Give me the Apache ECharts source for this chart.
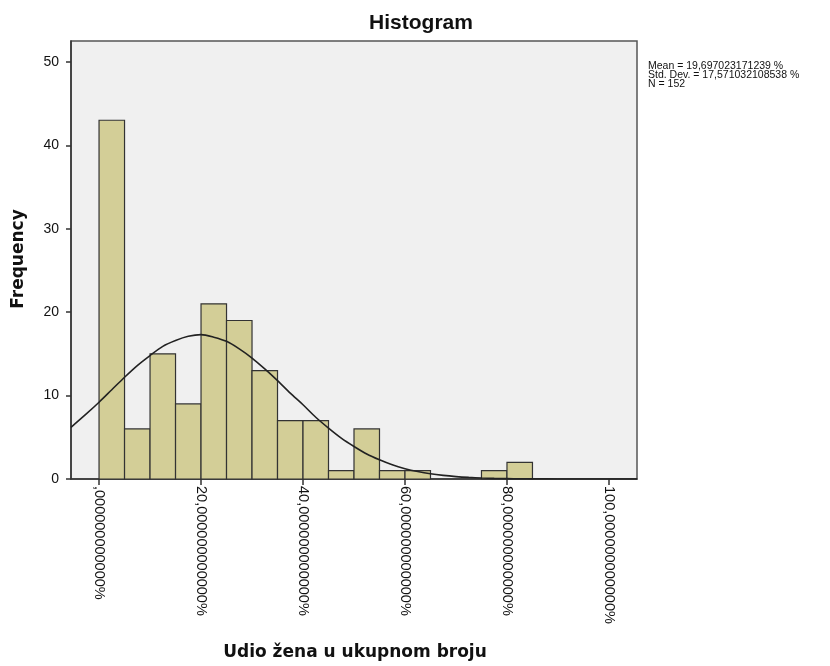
<!DOCTYPE html>
<html>
<head>
<meta charset="utf-8">
<script src="https://cdn.jsdelivr.net/npm/echarts@6/dist/echarts.min.js"></script>
<style>html,body{margin:0;padding:0;background:#fff}#c{width:830px;height:666px}</style>
</head>
<body>
<div id="c"></div>
<script>
// Histogram bins (percent) and frequencies
const binStarts = [0, 5, 10, 15, 20, 25, 30, 35, 40, 45, 50, 55, 60, 65, 70, 75, 80];
const binWidth = 5;
const frequencies = [43, 6, 15, 9, 21, 19, 13, 7, 7, 1, 6, 1, 1, 0, 0, 1, 2];
// Normal curve
const curveX = [-5.5, -2.5, 0, 2.5, 5, 7.5, 10, 12.5, 15, 17.5, 20, 22.5, 25, 27.5, 30, 32.5, 35, 37.5, 40, 42.5, 45, 47.5, 50, 52.5, 55, 57.5, 60, 62.5, 65, 67.5, 70, 72.5, 75, 77.5, 80, 82.5, 85, 90, 95, 100, 105.5];
const curveY = [6.2, 7.8, 9.2, 10.7, 12.2, 13.6, 14.8, 15.9, 16.6, 17.1, 17.3, 17.0, 16.5, 15.6, 14.5, 13.2, 11.8, 10.3, 8.9, 7.4, 6.1, 4.9, 3.9, 3.0, 2.3, 1.7, 1.24, 0.89, 0.62, 0.43, 0.29, 0.19, 0.12, 0.08, 0.05, 0.03, 0.02, 0.005, 0.001, 0, 0];
const xTicks = [0, 20, 40, 60, 80, 100];
const xTickLabels = [',000000000000%', '20,000000000000%', '40,000000000000%', '60,000000000000%', '80,000000000000%', '100,000000000000%'];
const yTicks = [0, 10, 20, 30, 40, 50];
const statsLines = ['Mean = 19,697023171239 %', 'Std. Dev. = 17,571032108538 %', 'N = 152'];
const chartTitle = 'Histogram';
const xTitle = 'Udio žena u ukupnom broju';
const yTitle = 'Frequency';

const barData = binStarts.map((s, i) => [s, s + binWidth, frequencies[i]]);
const curveData = curveX.map((x, i) => [x, curveY[i]]);

const chart = echarts.init(document.getElementById('c'));
chart.setOption({
  animation: false,
  backgroundColor: '#ffffff',
  grid: {
    left: 71, right: 193, top: 41, bottom: 187,
    show: true, backgroundColor: '#F0F0F0', borderColor: '#555', borderWidth: 1.5
  },
  xAxis: {
    type: 'value', min: -5.5, max: 105.5,
    splitLine: { show: false },
    axisLine: { show: true, onZero: false, lineStyle: { color: '#333', width: 1.5 } },
    axisTick: { show: true, customValues: xTicks, length: 6, lineStyle: { color: '#333', width: 1.5 } },
    axisLabel: {
      customValues: xTicks, rotate: -90, margin: 7,
      color: '#111', fontFamily: 'Arial, Liberation Sans', fontSize: 14.5,
      formatter: v => xTickLabels[xTicks.indexOf(Math.round(v))] || ''
    }
  },
  yAxis: {
    type: 'value', min: 0, max: 52.5,
    splitLine: { show: false },
    axisLine: { show: true, onZero: false, lineStyle: { color: '#333', width: 1.5 } },
    axisTick: { show: true, customValues: yTicks, length: 5, lineStyle: { color: '#333', width: 1.5 } },
    axisLabel: {
      customValues: yTicks, margin: 12,
      color: '#111', fontFamily: 'Arial, Liberation Sans', fontSize: 14
    }
  },
  series: [
    {
      type: 'custom',
      data: barData,
      renderItem: function (params, api) {
        const c = api.value(2);
        if (!c) return null;
        const p0 = api.coord([api.value(0), 0]);
        const p1 = api.coord([api.value(1), c]);
        return {
          type: 'rect',
          shape: { x: p0[0], y: p1[1], width: p1[0] - p0[0], height: p0[1] - p1[1] },
          style: { fill: '#D3CE97', stroke: '#333', lineWidth: 1.2 }
        };
      },
      encode: { x: [0, 1], y: 2 },
      z: 2
    },
    {
      type: 'line',
      data: curveData,
      showSymbol: false,
      smooth: 0.3,
      lineStyle: { color: '#222', width: 1.6 },
      z: 3
    }
  ],
  graphic: [
    {
      type: 'text', x: 421, y: 23,
      style: { text: chartTitle, textAlign: 'center', textVerticalAlign: 'middle',
        font: 'bold 21px Arial, "Liberation Sans"', fill: '#111' }
    },
    {
      type: 'text', x: 355, y: 653,
      style: { text: xTitle, textAlign: 'center', textVerticalAlign: 'middle',
        font: 'bold 17px "DejaVu Sans"', fill: '#111' }
    },
    {
      type: 'text', x: 19, y: 259, rotation: Math.PI / 2,
      style: { text: yTitle, textAlign: 'center', textVerticalAlign: 'middle',
        font: 'bold 17px "DejaVu Sans"', fill: '#111' }
    },
    {
      type: 'text', x: 648, y: 62,
      style: { text: statsLines.join('\n'), textAlign: 'left', textVerticalAlign: 'top',
        font: '10.5px Arial, "Liberation Sans"', lineHeight: 9, fill: '#111' }
    }
  ]
});
</script>
</body>
</html>
